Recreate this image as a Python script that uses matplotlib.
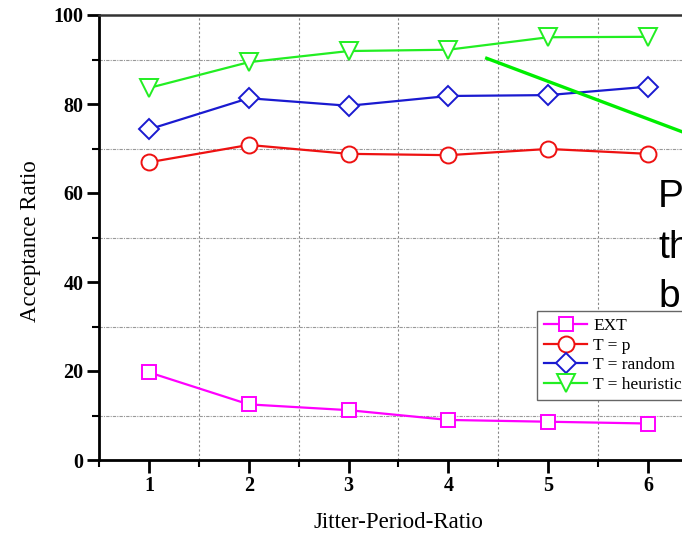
import matplotlib
matplotlib.use('Agg')
import matplotlib.pyplot as plt
from matplotlib.lines import Line2D
from matplotlib.ticker import MultipleLocator

# Taux d'acceptation en fonction du rapport gigue / période
jitter_ratio = [1, 2, 3, 4, 5, 6]
ext = [19.7, 12.5, 11.2, 9.0, 8.6, 8.2]
t_p = [66.9, 70.8, 68.8, 68.5, 69.9, 68.8]
t_random = [74.3, 81.3, 79.6, 81.8, 82.0, 83.9]
t_heuristic = [83.6, 89.4, 91.9, 92.2, 95.0, 95.1]

series = [
    ('EXT', ext, '#ff00ff', 's', 10),
    ('T = p', t_p, '#ee1111', 'o', 11.5),
    ('T = random', t_random, '#1a1ad0', 'D', 10.5),
    ('T = heuristic', t_heuristic, '#22ee22', 'v', 13.5),
]

W, H = 682, 536
fig = plt.figure(figsize=(W / 100, H / 100), dpi=100)
ax = fig.add_axes([99 / W, 1 - 460 / H, 599 / W, 445 / H])

for label, vals, color, marker, ms in series:
    ax.plot(jitter_ratio, vals, color=color, linewidth=1.6, marker=marker,
            markersize=ms, markerfacecolor='white', markeredgecolor=color,
            markeredgewidth=1.4, label=label, zorder=3)

ax.set_xlim(0.5, 6.5)
ax.set_ylim(0, 100)
ax.xaxis.set_major_locator(MultipleLocator(1))
ax.xaxis.set_minor_locator(MultipleLocator(0.5))
ax.yaxis.set_major_locator(MultipleLocator(20))
ax.yaxis.set_minor_locator(MultipleLocator(10))

# grille pointillée uniquement sur les graduations secondaires
ax.grid(False)
for xv in [1.5, 2.5, 3.5, 4.5, 5.5]:
    ax.axvline(xv, color='#888888', linewidth=0.8, linestyle=(0, (2, 2)), zorder=1)
for yv in [10, 30, 50, 70, 90]:
    ax.axhline(yv, color='#999999', linewidth=0.8, linestyle=(0, (3, 1, 1, 1)), zorder=1)

for side in ['left', 'bottom']:
    ax.spines[side].set_linewidth(2)
    ax.spines[side].set_color('black')
ax.spines['top'].set_linewidth(1.8)
ax.spines['top'].set_color('#333333')
ax.spines['right'].set_visible(False)

ax.tick_params(which='major', direction='out', length=9, width=2, pad=2)
ax.tick_params(which='minor', direction='out', length=5, width=1.5)
ax.tick_params(top=False, right=False, which='both')

tick_font = dict(family='Liberation Serif', weight='bold', size=14.5)
ax.set_xticks(jitter_ratio)
ax.set_xticklabels([str(v) for v in jitter_ratio], **tick_font)
ax.set_yticks([0, 20, 40, 60, 80, 100])
ax.set_yticklabels(['0', '20', '40', '60', '80', '100'], **tick_font)
ax.tick_params(axis='x', pad=2.5)

ax.set_xlabel('Jitter-Period-Ratio', family='Liberation Serif', size=16.5)
ax.set_ylabel('Acceptance Ratio', family='Liberation Serif', size=16.5)
ax.xaxis.set_label_coords((398 - 99) / 599, -(512 - 460) / 445)
ax.yaxis.set_label_coords(-(99 - 41) / 599, (460 - 241) / 445)

leg = ax.legend(loc='upper left', bbox_to_anchor=(537 / W, 1 - 311 / H),
                bbox_transform=fig.transFigure, borderaxespad=0,
                prop=dict(family='Liberation Serif', size=12.5),
                handlelength=2.5, handletextpad=0.35, labelspacing=0.2,
                borderpad=0.4, fancybox=False, framealpha=1,
                edgecolor='#666666')
leg.get_frame().set_linewidth(1)
leg.set_zorder(5)

# trait de rappel vert et texte superposé
fig.add_artist(Line2D([486.7 / W, 800 / W],
                      [1 - 58.3 / H, 1 - (58.3 + 0.376 * (800 - 486.7)) / H],
                      color='#00ee00', linewidth=2.4, zorder=6))
for txt, y in [('P', 207), ('th', 258), ('b', 307)]:
    fig.text(658 / W, 1 - y / H, txt, family='Liberation Sans', size=28,
             va='baseline', ha='left', color='black', zorder=7)

fig.savefig('out.png', dpi=100)
